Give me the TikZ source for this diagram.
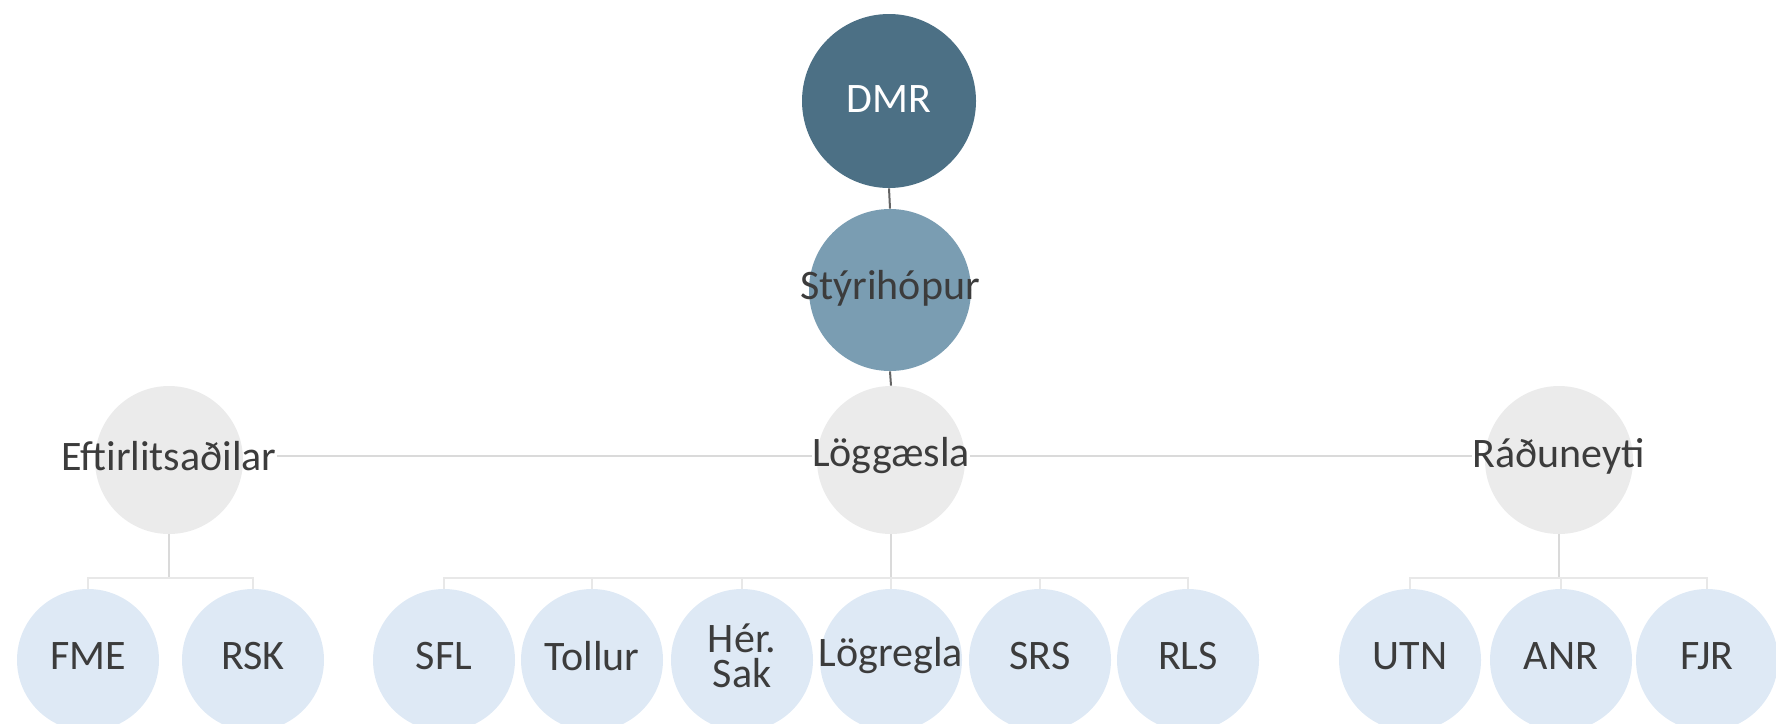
\documentclass[tikz,border=0pt]{standalone}
\usepackage{fontspec}
\setmainfont{Carlito}
\usetikzlibrary{backgrounds}
\definecolor{dmrfill}{RGB}{76,112,133}
\definecolor{styfill}{RGB}{122,157,178}
\definecolor{greyfill}{RGB}{235,235,235}
\definecolor{bluefill}{RGB}{222,233,245}
\definecolor{txtcol}{RGB}{60,60,60}
\definecolor{darkline}{RGB}{100,100,100}
\definecolor{lightline}{RGB}{218,218,218}
\definecolor{barline}{RGB}{232,232,232}
\tikzset{
  circ/.style={circle, draw=none, inner sep=0pt},
  dmrc/.style={circ, fill=dmrfill, minimum size=87pt},
  styc/.style={circ, fill=styfill, minimum size=81pt},
  greyc/.style={circ, fill=greyfill, minimum size=74pt},
  bluec/.style={circ, fill=bluefill, minimum size=71pt},
  lbl/.style={inner sep=0pt, text=txtcol, font=\fontsize{21pt}{17.5pt}\selectfont, align=center},
  darkconn/.style={draw=darkline, line width=1pt},
  lightconn/.style={draw=lightline, line width=1pt},
  barconn/.style={draw=barline, line width=1.2pt}
}
\begin{document}
\begin{tikzpicture}[x=0.5pt, y=-0.5pt]
\useasboundingbox (0,0) rectangle (1776,723);
% top
\node[dmrc] (dmr) at (889,101) {};
\node[lbl, text=white] (dmrt) at ([yshift=1pt]dmr.center) {DMR};
\node[styc] (sty) at (890,290) {};
\node[lbl] (styt) at ([yshift=1pt]sty.center) {Stýrihópur};
% middle row
\node[greyc] (eft) at (169,460) {};
\node[lbl] (eftt) at ([yshift=2pt]eft.center) {Eftirlitsaðilar};
\node[greyc] (logg) at (891,460) {};
\node[lbl] (loggt) at ([yshift=2pt]logg.center) {Löggæsla};
\node[greyc] (rad) at (1559,460) {};
\node[lbl] (radt) at ([yshift=2pt]rad.center) {Ráðuneyti};
% bottom row
\foreach \n/\x/\t in {fme/88/FME, rsk/253/RSK, sfl/444/SFL, tol/592/Tollur, her/742/{Hér.\\Sak}, lgr/891/Lögregla, srs/1040/SRS, rls/1188/RLS, utn/1410/UTN, anr/1561/ANR, fjr/1707/FJR}{
  \node[bluec] (\n) at (\x,660) {};
  \node[lbl] (\n t) at ([yshift=2pt]\n.center) {\t};
}
\coordinate (eb) at (169,578);
\coordinate (lb) at (891,578);
\coordinate (rb) at (1561,578);
\begin{scope}[on background layer]
\draw[darkconn] (dmr.south) -- (sty.north);
\draw[darkconn] (sty.south) -- (logg.north);
\draw[lightconn] (eftt.east) -- (loggt.west);
\draw[lightconn] (loggt.east) -- (radt.west);
\draw[lightconn] (eft.south) -- (eft |- eb);
\draw[lightconn] (logg.south) -- (logg |- lb);
\draw[lightconn] (rad.south) -- (rad |- rb);
\draw[barconn] (fme.north) -- (fme |- eb) -- (rsk |- eb) -- (rsk.north);
\draw[barconn] (sfl.north) -- (sfl |- lb) -- (rls |- lb) -- (rls.north);
\foreach \n in {tol,her,lgr,srs}{\draw[barconn] (\n |- lb) -- (\n.north);}
\draw[barconn] (utn.north) -- (utn |- rb) -- (fjr |- rb) -- (fjr.north);
\draw[barconn] (anr |- rb) -- (anr.north);
\end{scope}
\end{tikzpicture}
\end{document}
